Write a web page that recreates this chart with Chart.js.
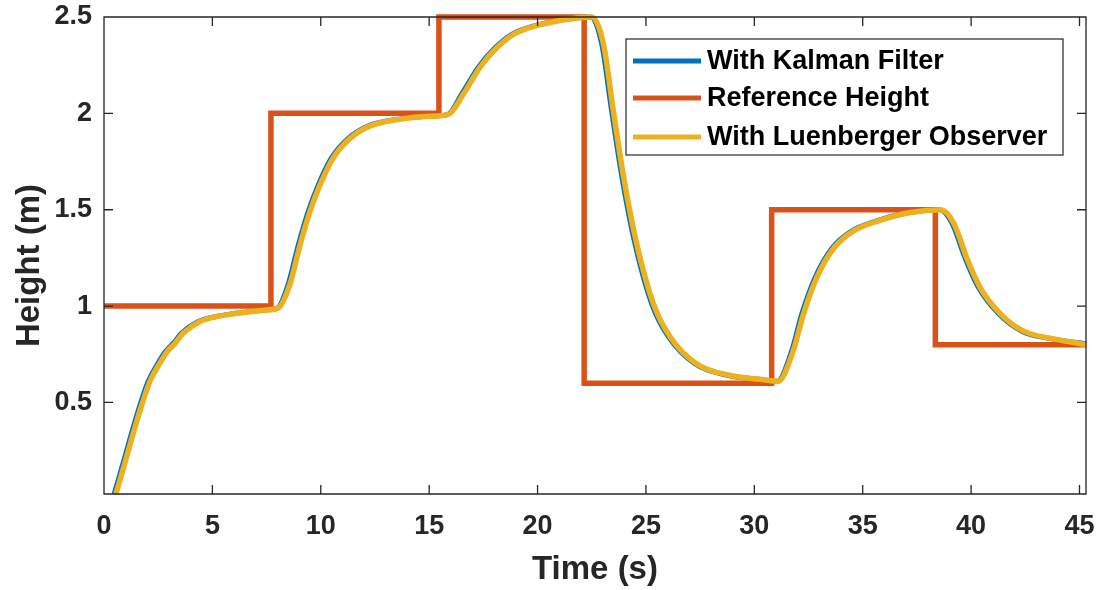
<!DOCTYPE html>
<html>
<head>
<meta charset="utf-8">
<script src="https://cdn.jsdelivr.net/npm/chart.js@4.4.1/dist/chart.umd.min.js"></script>
<style>
html,body{margin:0;padding:0;background:#fff;}
#wrap{width:1100px;height:590px;position:relative;}
</style>
</head>
<body>
<div id="wrap"><canvas id="c" width="1100" height="590"></canvas></div>
<script>
// ---- data ----
const xTickValues = [0, 5, 10, 15, 20, 25, 30, 35, 40, 45];
const yTickValues = [0.5, 1, 1.5, 2, 2.5];

const refTime   = [0, 7.7, 15.45, 22.15, 30.8, 38.35, 45.3];
const refHeight = [1, 2,   2.5,   0.6,   1.5,  0.8,   0.8];

const kalmanTime = [0.47, 0.92, 1.27, 1.67, 2.04, 2.42, 2.81, 3.22, 3.58, 4.35, 5.12, 5.9, 6.75, 7.45, 8.0,
  8.5, 8.97, 9.42, 9.89, 10.5, 11.27, 12.2, 13.58, 14.92, 15.86,
  16.5, 17.27, 18.04, 18.81, 20.04, 21.42, 22.46,
  22.96, 23.42, 23.89, 24.5, 25.27, 26.04, 27.27, 28.81, 30.2, 31.06,
  31.73, 32.19, 32.81, 33.58, 34.5, 35.58, 37.12, 38.56,
  39.12, 39.72, 40.32, 41.27, 42.34, 43.72, 45.3];
const kalmanHeight = [0.025, 0.2, 0.34, 0.49, 0.61, 0.69, 0.76, 0.81, 0.86, 0.92, 0.945, 0.96, 0.972, 0.98, 0.99,
  1.115, 1.32, 1.49, 1.63, 1.77, 1.87, 1.935, 1.97, 1.985, 1.995,
  2.10, 2.24, 2.34, 2.41, 2.46, 2.49, 2.5,
  2.36, 2.01, 1.67, 1.32, 1.01, 0.84, 0.70, 0.64, 0.62, 0.61,
  0.77, 0.96, 1.15, 1.30, 1.39, 1.44, 1.486, 1.50,
  1.43, 1.25, 1.10, 0.96, 0.87, 0.83, 0.805];

const luenTime = [0.55, 1.0, 1.35, 1.75, 2.12, 2.5, 2.89, 3.3, 3.66, 4.43, 5.2, 5.97, 6.8, 7.5, 8.04,
  8.58, 9.05, 9.5, 9.97, 10.58, 11.35, 12.28, 13.66, 15.0, 15.9,
  16.58, 17.35, 18.12, 18.89, 20.12, 21.5, 22.5,
  23.04, 23.5, 23.97, 24.58, 25.35, 26.12, 27.35, 28.89, 30.27, 31.1,
  31.8, 32.27, 32.89, 33.66, 34.58, 35.66, 37.2, 38.6,
  39.2, 39.8, 40.4, 41.35, 42.42, 43.8, 45.3];
const luenHeight = [0.025, 0.2, 0.34, 0.49, 0.61, 0.69, 0.76, 0.81, 0.86, 0.92, 0.945, 0.96, 0.972, 0.98, 0.99,
  1.115, 1.32, 1.49, 1.63, 1.77, 1.87, 1.935, 1.97, 1.985, 1.995,
  2.10, 2.24, 2.34, 2.41, 2.46, 2.49, 2.5,
  2.36, 2.01, 1.67, 1.32, 1.01, 0.84, 0.70, 0.64, 0.62, 0.61,
  0.77, 0.96, 1.15, 1.30, 1.39, 1.44, 1.486, 1.50,
  1.43, 1.25, 1.10, 0.96, 0.87, 0.83, 0.80];

const xTitle = 'Time (s)';
const yTitle = 'Height (m)';

// ---- build ----
const toXY = (ts, vs) => ts.map((t, i) => ({x: t, y: vs[i]}));
const FONT = "'Liberation Sans', Arial, Helvetica, sans-serif";
const TXT = '#262626';

const frameLegend = {
  id: 'frameLegend',
  afterDatasetsDraw(chart) {
    const ctx = chart.ctx;
    const {left, right, top, bottom} = chart.chartArea;
    const xs = chart.scales.x, ys = chart.scales.y;
    ctx.save();
    ctx.strokeStyle = TXT;
    ctx.lineWidth = 1.3;
    ctx.beginPath();
    ctx.rect(left, top, right - left, bottom - top);
    const tl = 9;
    xTickValues.forEach(v => {
      const px = xs.getPixelForValue(v);
      ctx.moveTo(px, bottom); ctx.lineTo(px, bottom - tl);
      ctx.moveTo(px, top); ctx.lineTo(px, top + tl);
    });
    yTickValues.forEach(v => {
      const py = ys.getPixelForValue(v);
      ctx.moveTo(left, py); ctx.lineTo(left + tl, py);
      ctx.moveTo(right, py); ctx.lineTo(right - tl, py);
    });
    ctx.stroke();

    // y axis title (rotated)
    ctx.save();
    ctx.translate(30, (top + bottom) / 2 + 10);
    ctx.rotate(-Math.PI / 2);
    ctx.font = 'bold 33px ' + FONT;
    ctx.fillStyle = TXT;
    ctx.textAlign = 'center';
    ctx.textBaseline = 'middle';
    ctx.fillText(yTitle, 0, 0);
    ctx.restore();

    // legend box
    const bx = right - 460, by = top + 22, bw = 437, bh = 116;
    ctx.fillStyle = '#fff';
    ctx.fillRect(bx, by, bw, bh);
    ctx.lineWidth = 1.2;
    ctx.strokeStyle = TXT;
    ctx.strokeRect(bx, by, bw, bh);
    const rows = [22, 59, 98];
    ctx.font = 'bold 27px ' + FONT;
    ctx.textBaseline = 'middle';
    ctx.textAlign = 'left';
    chart.data.datasets.forEach((ds, i) => {
      const yy = by + rows[i];
      ctx.strokeStyle = ds.borderColor;
      ctx.lineWidth = 5;
      ctx.beginPath();
      ctx.moveTo(bx + 7, yy); ctx.lineTo(bx + 75, yy);
      ctx.stroke();
      ctx.fillStyle = '#000';
      ctx.fillText(ds.label, bx + 81, yy + 1);
    });
    ctx.restore();
  }
};

new Chart(document.getElementById('c'), {
  type: 'line',
  data: {
    datasets: [
      {
        label: 'With Kalman Filter',
        data: toXY(kalmanTime, kalmanHeight),
        borderColor: '#0072BD',
        borderWidth: 5,
        pointRadius: 0,
        cubicInterpolationMode: 'monotone',
        borderJoinStyle: 'round',
        clip: false,
        order: 2
      },
      {
        label: 'Reference Height',
        data: toXY(refTime, refHeight),
        borderColor: '#D95319',
        borderWidth: 5.5,
        pointRadius: 0,
        stepped: 'before',
        borderJoinStyle: 'miter',
        clip: false,
        order: 1
      },
      {
        label: 'With Luenberger Observer',
        data: toXY(luenTime, luenHeight),
        borderColor: '#EDB120',
        borderWidth: 5.5,
        pointRadius: 0,
        cubicInterpolationMode: 'monotone',
        borderJoinStyle: 'round',
        clip: false,
        order: 0
      }
    ]
  },
  options: {
    responsive: false,
    animation: false,
    devicePixelRatio: 1,
    layout: {padding: {left: 0, right: 14, top: 17, bottom: 0}},
    plugins: {legend: {display: false}, tooltip: {enabled: false}},
    scales: {
      x: {
        type: 'linear',
        min: 0,
        max: 45.3,
        afterBuildTicks: s => { s.ticks = xTickValues.map(v => ({value: v})); },
        afterFit: s => { s.height = 96; s.paddingLeft = 0; s.paddingRight = 0; },
        grid: {display: false, drawTicks: false},
        border: {display: false},
        ticks: {
          padding: 16, maxRotation: 0, autoSkip: false, color: TXT,
          font: {family: FONT, size: 27, weight: 'bold'},
          callback: v => String(v)
        },
        title: {
          display: true, text: xTitle, color: TXT,
          font: {family: FONT, size: 33, weight: 'bold', lineHeight: 1},
          padding: {top: 0, bottom: 4}
        }
      },
      y: {
        type: 'linear',
        min: 0.025,
        max: 2.5,
        afterBuildTicks: s => { s.ticks = yTickValues.map(v => ({value: v})); },
        afterFit: s => { s.width = 104; s.paddingTop = 0; s.paddingBottom = 0; },
        grid: {display: false, drawTicks: false},
        border: {display: false},
        ticks: {
          padding: 12, color: TXT,
          font: {family: FONT, size: 27, weight: 'bold'},
          callback: v => String(v)
        },
        title: {display: false}
      }
    }
  },
  plugins: [frameLegend]
});
</script>
</body>
</html>
